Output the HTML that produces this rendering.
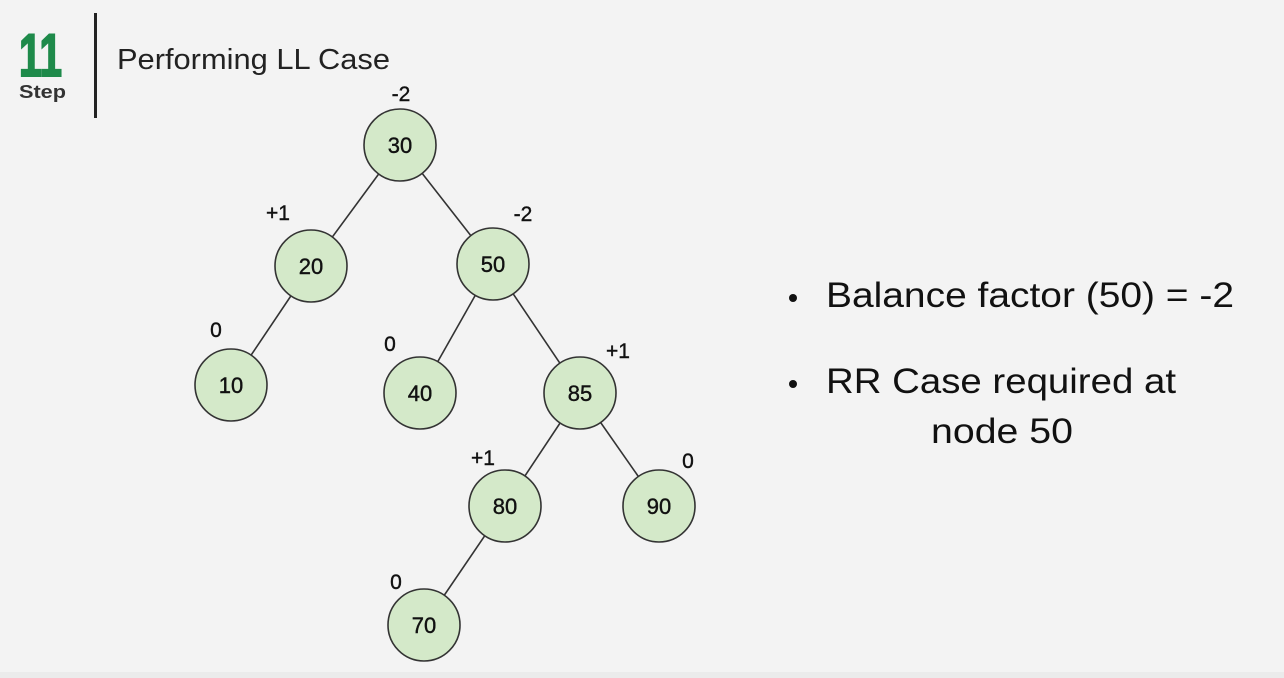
<!DOCTYPE html>
<html><head><meta charset="utf-8"><style>
html,body{margin:0;padding:0;background:#f3f3f3;}
svg{display:block}
text{font-family:"Liberation Sans",sans-serif;}
</style></head><body>
<svg width="1284" height="678" viewBox="0 0 1284 678" xmlns="http://www.w3.org/2000/svg">
<rect width="1284" height="678" fill="#f3f3f3"/>
<rect y="672" width="1284" height="6" fill="#ebebeb"/>
<text x="19" y="76" font-size="60" font-weight="bold" fill="#1e8a4a" stroke="#1e8a4a" stroke-width="2" textLength="43" lengthAdjust="spacingAndGlyphs">11</text>
<text x="19" y="98" font-size="18" font-weight="bold" fill="#333" textLength="47" lengthAdjust="spacingAndGlyphs">Step</text>
<rect x="94" y="13" width="3" height="105" fill="#222"/>
<text x="117" y="69" font-size="29" fill="#222" textLength="273" lengthAdjust="spacingAndGlyphs">Performing LL Case</text>
<g stroke="#333" stroke-width="1.6">
<line x1="400" y1="145" x2="311" y2="266"/>
<line x1="400" y1="145" x2="493" y2="264"/>
<line x1="311" y1="266" x2="231" y2="385"/>
<line x1="493" y1="264" x2="420" y2="393"/>
<line x1="493" y1="264" x2="580" y2="393"/>
<line x1="580" y1="393" x2="505" y2="506"/>
<line x1="580" y1="393" x2="659" y2="506"/>
<line x1="505" y1="506" x2="424" y2="625"/>
</g>
<g fill="#d4e9c9" stroke="#333" stroke-width="1.6">
<circle cx="400" cy="145" r="36"/>
<circle cx="311" cy="266" r="36"/>
<circle cx="493" cy="264" r="36"/>
<circle cx="231" cy="385" r="36"/>
<circle cx="420" cy="393" r="36"/>
<circle cx="580" cy="393" r="36"/>
<circle cx="505" cy="506" r="36"/>
<circle cx="659" cy="506" r="36"/>
<circle cx="424" cy="625" r="36"/>
</g>
<g font-size="22" fill="#111" text-anchor="middle" stroke="#111" stroke-width="0.4">
<text x="400" y="153">30</text>
<text x="311" y="274">20</text>
<text x="493" y="272">50</text>
<text x="231" y="393">10</text>
<text x="420" y="401">40</text>
<text x="580" y="401">85</text>
<text x="505" y="514">80</text>
<text x="659" y="514">90</text>
<text x="424" y="633">70</text>
</g>
<g font-size="21" fill="#111" text-anchor="middle" stroke="#111" stroke-width="0.4">
<text x="401" y="101">-2</text>
<text x="278" y="220">+1</text>
<text x="523" y="221">-2</text>
<text x="216" y="337">0</text>
<text x="390" y="351">0</text>
<text x="618" y="358">+1</text>
<text x="483" y="465">+1</text>
<text x="688" y="468">0</text>
<text x="396" y="589">0</text>
</g>
<circle cx="793" cy="298" r="4" fill="#111"/>
<circle cx="793" cy="384" r="4" fill="#111"/>
<g font-size="35" fill="#111">
<text x="826" y="307" textLength="408" lengthAdjust="spacingAndGlyphs">Balance factor (50) = -2</text>
<text x="826" y="393" textLength="350" lengthAdjust="spacingAndGlyphs">RR Case required at</text>
<text x="931" y="443" textLength="142" lengthAdjust="spacingAndGlyphs">node 50</text>
</g>
</svg>
</body></html>
